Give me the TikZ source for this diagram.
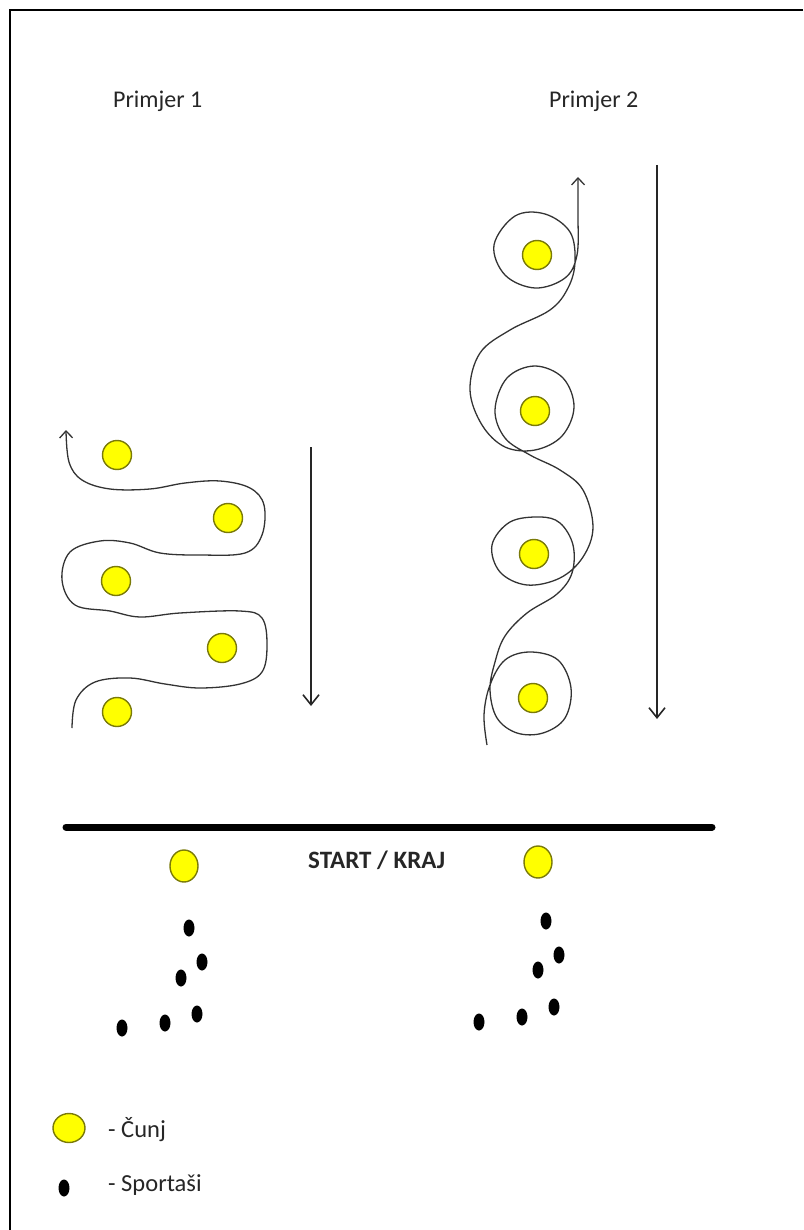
\documentclass[tikz,border=0pt]{standalone}
\usepackage{fontspec}
\setmainfont{Carlito}
\usetikzlibrary{positioning}
\usetikzlibrary{shapes.geometric}
\usetikzlibrary{arrows.meta}

\definecolor{cunjzuta}{HTML}{FFFF00}
\definecolor{cunjrub}{HTML}{7A7A08}

\begin{document}
\begin{tikzpicture}[x=1pt, y=-1pt,
    cunj/.style={draw=cunjrub, fill=cunjzuta, line width=1.4pt, circle,
        minimum size=29pt, inner sep=0pt},
    sportas/.style={fill=black, ellipse, minimum width=11pt,
        minimum height=17pt, inner sep=0pt},
    putanja/.style={draw=black!80, line width=1.3pt},
    smjer/.style={draw=black!85, line width=1.6pt,
        -{Straight Barb[length=10pt,width=16pt]}},
    natpis/.style={font=\fontsize{24}{27}\selectfont, text=black!85,
        inner sep=0pt}
    ]
    \useasboundingbox (0,0) rectangle (803,1230);
    % okvir
    \coordinate (okA) at (803,10);
    \coordinate (okB) at (10,10);
    \coordinate (okC) at (10,1230);
    \draw[line width=2pt] (okA) -- (okB) -- (okC);

    \node[natpis, anchor=west] (prim1) at (113,101) {Primjer 1};
    \node[natpis, anchor=west] (prim2) at (549,101) {Primjer 2};

    % primjer 1
    \node[cunj] (c11) at (117,455) {};
    \node[cunj] (c12) at (228,518) {};
    \node[cunj] (c13) at (116,581) {};
    \node[cunj] (c14) at (222,648) {};
    \node[cunj] (c15) at (117,712) {};
    \draw[putanja, -{Straight Barb[length=7pt,width=13pt]}]
        plot[smooth, tension=0.6] coordinates {
        (72,728) (76,700) (95,682) (130,678) (165,684) (200,688) (240,684)
        (262,672) (267,645) (262,618) (240,611) (180,613) (140,617)
        (110,611) (75,605) (62,580) (70,552) (100,541) (130,543) (160,553)
        (200,555) (245,553) (262,535) (264,505) (250,488) (220,481)
        (185,483) (150,489) (110,489) (82,480) (69,462) (66,430)};
    \coordinate (s1a) at (311,447);
    \coordinate (s1b) at (311,706);
    \draw[smjer] (s1a) -- (s1b);

    % primjer 2
    \node[cunj] (c21) at (537,255) {};
    \node[cunj] (c22) at (535,411) {};
    \node[cunj] (c23) at (534,554) {};
    \node[cunj] (c24) at (533,698) {};
    \draw[putanja, -{Straight Barb[length=7pt,width=13pt]}]
        plot[smooth, tension=0.6] coordinates {
        (487,745) (484,715) (490,685) (505,660) (530,652) (558,660)
        (571,688) (565,718) (543,733) (517,733) (497,718) (490,690)
        (495,662) (505,636) (527,613) (557,594) (572,573) (573,545)
        (560,523) (540,517) (510,522) (492,545) (500,572) (527,585)
        (560,578) (583,557) (593,527) (583,490) (560,470) (530,455)
        (505,438) (495,410) (507,378) (535,366) (563,378) (574,407)
        (562,436) (535,450) (505,447) (482,425) (470,390) (480,353)
        (510,330) (550,310) (568,288) (575,262) (570,232) (545,214)
        (515,216) (494,245) (505,275) (535,288) (565,278) (577,255)
        (578,215) (578,177)};
    \coordinate (s2a) at (657,165);
    \coordinate (s2b) at (657,719);
    \draw[smjer] (s2a) -- (s2b);

    % start / kraj
    \coordinate (linL) at (66,827);
    \coordinate (linR) at (712,827);
    \draw[line width=7pt, line cap=round] (linL) -- (linR);
    \node[natpis, font=\fontsize{25}{28}\selectfont\bfseries, anchor=west]
        (startkraj) at (308,860) {START / KRAJ};
    \node[cunj, ellipse, minimum width=28pt, minimum height=32pt] (cs1) at (184,866) {};
    \node[cunj, ellipse, minimum width=28pt, minimum height=32pt] (cs2) at (538,862) {};

    % sportasi
    \node[sportas] (a1) at (189,928) {};
    \node[sportas] (a2) at (202,962) {};
    \node[sportas] (a3) at (181,978) {};
    \node[sportas] (a4) at (197,1014) {};
    \node[sportas] (a5) at (165,1023) {};
    \node[sportas] (a6) at (122,1028) {};
    \node[sportas] (b1) at (546,921) {};
    \node[sportas] (b2) at (559,955) {};
    \node[sportas] (b3) at (538,970) {};
    \node[sportas] (b4) at (554,1007) {};
    \node[sportas] (b5) at (522,1017) {};
    \node[sportas] (b6) at (479,1022) {};

    % legenda
    \node[cunj, ellipse, minimum width=32pt, minimum height=29pt] (lcunj) at (69,1128) {};
    \node[natpis, font=\fontsize{24.5}{27}\selectfont, anchor=west] (tcunj) at (108,1130) {- Čunj};
    \node[sportas] (lsport) at (64,1188) {};
    \node[natpis, font=\fontsize{24.5}{27}\selectfont, anchor=west] (tsport) at (108,1185) {- Sportaši};
\end{tikzpicture}
\end{document}
